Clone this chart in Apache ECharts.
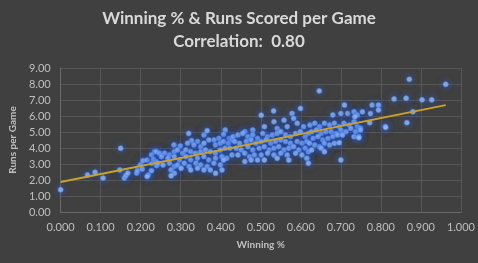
<!DOCTYPE html>
<html><head><meta charset="utf-8">
<script src="https://cdn.jsdelivr.net/npm/echarts@6/dist/echarts.min.js"></script>
<style>html,body{margin:0;padding:0;background:#404040;}#c{width:478px;height:263px;}</style>
</head><body><div id="c"></div>
<script>
const titleText = "Winning % & Runs Scored per Game";
const subText = "Correlation:  0.80";
const xName = "Winning %";
const yName = "Runs per Game";

const winPct = [
0.000,0.067,0.086,0.106,0.150,0.148,0.159,0.163,0.168,0.190,0.192,0.199,0.204,0.206,0.216,0.219,0.216,0.227,0.228,0.235,0.227,0.232,0.238,0.240,
0.320,0.358,0.366,0.411,0.407,0.421,0.395,0.383,0.370,0.342,0.327,0.283,0.299,0.317,0.333,0.350,0.358,0.387,0.399,0.407,0.419,0.428,
0.239,0.247,0.260,0.272,0.284,0.292,0.305,0.313,0.325,0.337,0.350,0.362,0.374,0.387,0.399,0.411,0.423,
0.252,0.268,0.284,0.297,0.313,0.325,0.342,0.358,0.370,0.387,0.403,0.415,0.428,
0.243,0.256,0.272,0.284,0.292,0.309,0.321,0.338,0.350,0.366,0.383,0.399,0.407,
0.276,0.284,0.276,0.301,0.325,0.342,0.358,0.374,0.403,0.387,
0.501,0.532,0.599,0.578,0.582,0.533,0.558,0.509,0.480,0.460,0.541,0.566,0.591,0.607,
0.431,0.443,0.455,0.468,0.480,0.492,0.505,0.517,0.529,0.541,0.550,0.562,0.574,0.587,0.599,0.611,0.619,
0.435,0.447,0.464,0.476,0.488,0.501,0.513,0.525,0.537,0.550,0.562,0.574,0.591,0.603,0.615,
0.439,0.451,0.468,0.480,0.496,0.509,0.521,0.533,0.545,0.558,0.570,0.582,0.595,0.611,0.619,
0.443,0.460,0.472,0.484,0.501,0.517,0.533,0.550,0.566,0.587,0.603,
0.460,0.476,0.492,0.509,0.541,0.570,0.615,0.619,
0.680,0.700,0.717,0.733,0.741,0.754,0.774,0.778,0.794,0.794,0.811,
0.623,0.635,0.647,0.659,0.672,0.684,0.696,0.708,0.721,0.733,0.741,0.749,
0.627,0.639,0.651,0.663,0.676,0.688,0.700,0.713,0.725,0.737,0.749,
0.631,0.643,0.655,0.668,0.680,0.692,0.704,0.733,0.745,
0.622,0.635,0.647,0.659,0.672,0.684,0.696,
0.627,0.651,0.659,0.700,
0.871,0.962,0.833,0.863,0.903,0.927,0.880,0.865,0.812,0.772,0.646,0.735,0.745,0.709
];
const runsPerGame = [
1.39,2.32,2.49,2.12,3.98,2.63,2.12,2.28,2.43,2.43,2.59,2.94,2.68,3.21,3.25,2.32,2.22,2.59,3.05,3.77,3.57,3.30,3.15,2.90,
4.91,4.81,5.08,5.12,4.85,4.60,4.60,4.50,4.50,4.40,4.46,4.19,4.13,4.29,4.19,4.08,4.29,4.19,4.29,4.40,4.29,4.50,
3.77,3.67,3.67,3.57,3.77,3.88,3.67,3.88,3.77,3.67,3.77,3.88,3.77,3.67,3.88,3.98,3.98,
3.46,3.36,3.46,3.25,3.46,3.25,3.36,3.46,3.25,3.36,3.46,3.36,3.57,
3.05,2.94,3.05,2.84,2.94,3.05,2.84,3.05,2.94,2.84,3.05,2.94,3.25,
2.63,2.42,2.26,2.74,2.63,2.74,2.63,2.63,2.63,2.42,
6.05,6.32,6.47,6.16,5.85,5.64,5.74,5.33,5.12,5.02,5.22,5.33,5.54,5.33,
4.71,4.81,4.91,4.71,4.81,4.60,4.91,4.71,4.81,4.91,5.02,4.81,4.71,4.91,5.02,4.71,4.91,
4.40,4.29,4.40,4.50,4.29,4.40,4.50,4.29,4.40,4.50,4.40,4.29,4.40,4.29,4.40,
3.98,3.88,4.08,3.88,3.98,4.08,3.88,3.98,4.08,3.88,3.98,4.08,3.88,3.98,3.77,
3.56,3.67,3.46,3.56,3.56,3.67,3.56,3.67,3.56,3.67,3.56,
3.15,3.25,3.25,3.25,3.36,3.25,3.36,3.05,
6.06,6.16,6.16,6.26,6.06,6.26,6.16,6.68,6.68,6.37,5.33,
5.43,5.54,5.33,5.54,5.43,5.54,5.33,5.54,5.43,5.64,5.33,5.23,
5.02,5.12,4.91,5.02,5.02,4.91,5.12,5.02,5.22,5.02,5.12,
4.60,4.71,4.50,4.60,4.71,4.81,4.81,4.71,4.71,
4.29,4.19,4.08,4.29,4.19,4.29,4.33,
3.88,3.98,3.77,3.25,
8.29,7.98,7.07,7.11,7.01,7.01,6.26,5.58,5.29,5.58,7.57,5.95,4.64,6.68
];
const trendX = [0.000, 0.962];
const trendY = [1.87, 6.68];

const points = winPct.map((w, i) => [w, runsPerGame[i]]);
const trend = trendX.map((w, i) => [w, trendY[i]]);

const chart = echarts.init(document.getElementById('c'), null, {renderer: 'canvas'});
const labelColor = '#bfbfbf';
const fam = 'Lato, "Open Sans", sans-serif';
chart.setOption({
  backgroundColor: '#404040',
  animation: false,
  title: [
    {text: titleText, left: 'center', top: 5, textStyle: {color: '#d9d9d9', fontSize: 17, fontWeight: 'bold', fontFamily: fam}},
    {text: subText, left: 'center', top: 28, textStyle: {color: '#d9d9d9', fontSize: 17, fontWeight: 'bold', fontFamily: fam}}
  ],
  grid: {left: 54, right: 17, top: 68, bottom: 51},
  xAxis: {
    type: 'value', min: 0, max: 1, interval: 0.1,
    name: xName, nameLocation: 'middle', nameGap: 28,
    nameTextStyle: {color: labelColor, fontSize: 10, fontWeight: 'bold', fontFamily: fam},
    axisLine: {show: true, lineStyle: {color: '#6a6a6a'}},
    axisTick: {show: false},
    axisLabel: {color: labelColor, fontSize: 11, fontFamily: fam, margin: 10, formatter: v => v.toFixed(3)},
    splitLine: {show: true, lineStyle: {color: '#585858', width: 1}}
  },
  yAxis: {
    type: 'value', min: 0, max: 9, interval: 1,
    name: yName, nameLocation: 'middle', nameGap: 42, nameRotate: 90,
    nameTextStyle: {color: labelColor, fontSize: 10, fontWeight: 'bold', fontFamily: fam},
    axisLine: {show: true, lineStyle: {color: '#6a6a6a'}},
    axisTick: {show: false},
    axisLabel: {color: labelColor, fontSize: 11, fontFamily: fam, margin: 10, formatter: v => v.toFixed(2)},
    splitLine: {show: true, lineStyle: {color: '#585858', width: 1}}
  },
  series: [
    {type: 'scatter', data: points, symbolSize: 5,
     itemStyle: {color: '#a4c4f5', borderColor: '#5b8ee8', borderWidth: 0.8, shadowBlur: 6, shadowColor: 'rgba(45,105,240,0.95)'}},
    {type: 'line', data: trend, showSymbol: false, symbol: 'none',
     lineStyle: {color: '#c9a22e', width: 2}, z: 3}
  ]
});
</script></body></html>
